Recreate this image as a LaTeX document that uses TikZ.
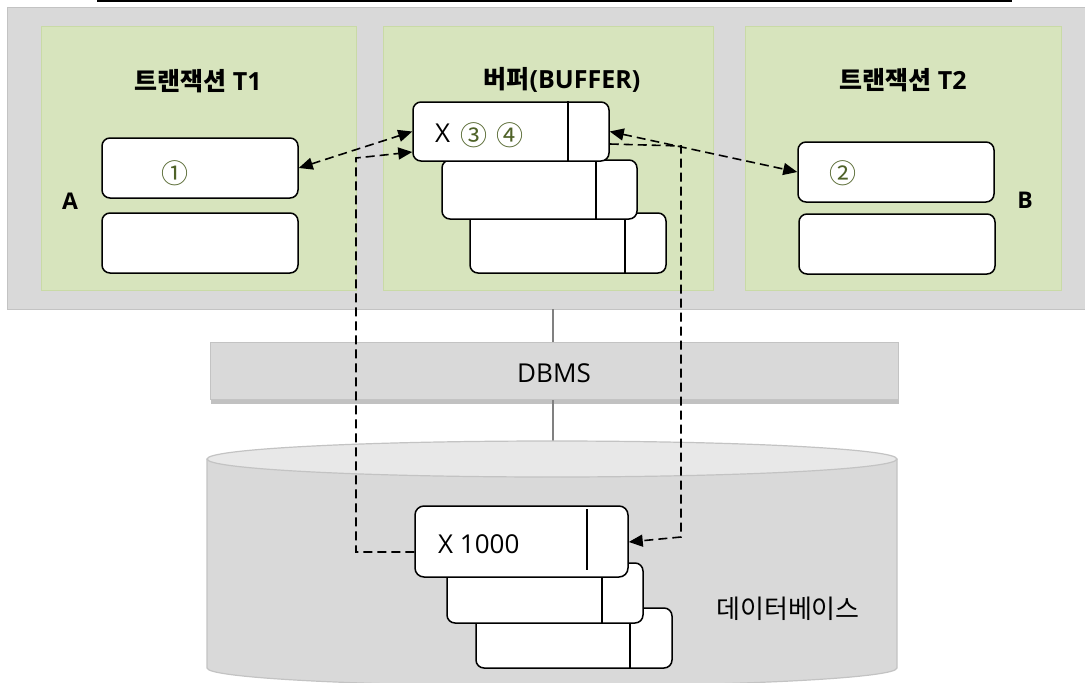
\documentclass[tikz,border=0pt]{standalone}
\usepackage{fontspec}
\setmainfont{Open Sans}
\newfontfamily\kr{Noto Sans CJK KR}
\usetikzlibrary{arrows.meta,shadows,calc}
\definecolor{panel}{HTML}{D7E4BD}
\definecolor{panelline}{HTML}{C9DAA6}
\definecolor{frame}{HTML}{D9D9D9}
\definecolor{frameline}{HTML}{C3C3C3}
\definecolor{mark}{HTML}{4F6228}
\definecolor{dbtop}{HTML}{E8E8E8}
\definecolor{wire}{HTML}{808080}
\begin{document}
\begin{tikzpicture}[x=1pt,y=1pt,
  rec/.style={draw=black, line width=1.5pt, fill=white, rounded corners=8pt,
    inner sep=0pt, minimum width=196pt, minimum height=60pt},
  divider/.style={draw=black, line width=1.5pt},
  link/.style={dash pattern=on 9pt off 5pt, line width=1.6pt},
  tip/.style={-{Triangle[length=14pt,width=12pt]}},
  bothtips/.style={{Triangle[length=14pt,width=12pt]}-{Triangle[length=14pt,width=12pt]}},
  title/.style={font=\fontsize{25}{30}\selectfont\bfseries, inner sep=0pt},
  label/.style={font=\fontsize{26}{30}\selectfont, inner sep=0pt},
  side/.style={font=\fontsize{23}{28}\selectfont\bfseries, inner sep=0pt},
  circ/.style={font=\fontsize{27}{30}\selectfont\kr, text=mark, inner sep=0pt},
  pane/.style={fill=panel, draw=panelline, line width=0.8pt},
]
\useasboundingbox (0,0) rectangle (1085,-683);

% heading rule
\draw[line width=1.8pt] (97,-0.9) -- (1012,-0.9);

% application layer frame and its three panes
\filldraw[fill=frame, draw=frameline, line width=1pt] (7,-7) rectangle (1090,-309);
\filldraw[pane] (41,-26) rectangle (356,-290);
\filldraw[pane] (383,-26) rectangle (713,-290);
\filldraw[pane] (745,-26) rectangle (1061,-290);

\node[title] (t1title) at (198,-81) {{\kr 트랜잭션} T1};
\node[title] (buftitle) at (562,-80) {{\kr 버퍼}(BUFFER)};
\node[title] (t2title) at (903,-80) {{\kr 트랜잭션} T2};
\node[side] (labA) at (70,-201) {A};
\node[side] (labB) at (1025,-200) {B};

% transaction T1 records
\node[rec] (ta1) at (200,-168) {};
\node[rec] (ta2) at (200,-243) {};
\node[circ] (c1) at (175,-173) {①};

% transaction T2 records
\node[rec] (tb1) at (896,-172) {};
\node[rec] (tb2) at (897,-244) {};
\node[circ] (c2) at (843,-173) {②};

% buffer pages (back to front)
\node[rec] (b3) at (568,-243) {};
\draw[divider] ($(b3.north east)+(-42,0)$) -- ($(b3.south east)+(-42,0)$);
\node[rec, minimum width=195pt, minimum height=59pt] (b2) at (539.5,-189.5) {};
\draw[divider] ($(b2.north east)+(-42,0)$) -- ($(b2.south east)+(-42,0)$);
\node[rec, minimum height=59pt] (b1) at (511,-131.5) {};
\draw[divider] ($(b1.north east)+(-42,0)$) -- ($(b1.south east)+(-42,0)$);
\node[label, anchor=west] (bx) at (435,-133) {X};
\node[circ] (c3) at (474,-135) {③};
\node[circ] (c4) at (510,-135) {④};

% DBMS layer
\draw[wire, line width=1.5pt] (553,-309) -- (553,-343);
\node[draw=frameline, fill=frame, line width=1pt, minimum width=688pt, minimum height=57pt,
      inner sep=0pt, drop shadow={shadow xshift=1pt, shadow yshift=-4pt, opacity=0.35, fill=black!70}]
      (dbms) at (554,-371) {};
\node[label] (dbmstext) at (554,-373) {DBMS};
\draw[wire, line width=1.5pt] (dbms.south) ++(-1,0) -- (553,-441);

% database cylinder
\fill[frame] (207,-459) -- (207,-668) arc[start angle=180, end angle=360, x radius=345, y radius=18]
  -- (897,-459) -- cycle;
\draw[frameline, line width=1.2pt] (207,-459) -- (207,-668)
  arc[start angle=180, end angle=360, x radius=345, y radius=18] -- (897,-459);
\filldraw[fill=dbtop, draw=frameline, line width=1.2pt] (552,-459) ellipse[x radius=345, y radius=18];
\node[font=\fontsize{26}{30}\selectfont\kr, inner sep=0pt] (dbname) at (788,-609) {데이터베이스};

% stored pages (back to front)
\node[rec] (d3) at (574,-638) {};
\draw[divider] ($(d3.north east)+(-43,0)$) -- ($(d3.south east)+(-43,0)$);
\node[rec] (d2) at (545,-593) {};
\draw[divider] ($(d2.north east)+(-42,0)$) -- ($(d2.south east)+(-42,0)$);
\node[rec, minimum width=213pt, minimum height=71pt, rounded corners=9pt] (d1) at (521.5,-541.5) {};
\draw[divider] ($(d1.north east)+(-42,-4)$) -- ($(d1.south east)+(-42,8)$);
\node[label, anchor=west] (dx) at (438,-544) {X 1000};

% data movement between pages
\draw[link, bothtips] (ta1.east) -- (b1.west);
\draw[link, tip] ($(d1.west)+(0,-10.5)$) -| (356,-158) -- ($(b1.west)+(0,-20.5)$);
\draw[link, bothtips] (b1.east) -- (tb1.west);
\draw[link, tip] ($(b1.east)+(0,-12.5)$) -- (681,-146) -- (681,-537) -- ($(d1.east)+(0,-0.5)$);
\end{tikzpicture}
\end{document}
